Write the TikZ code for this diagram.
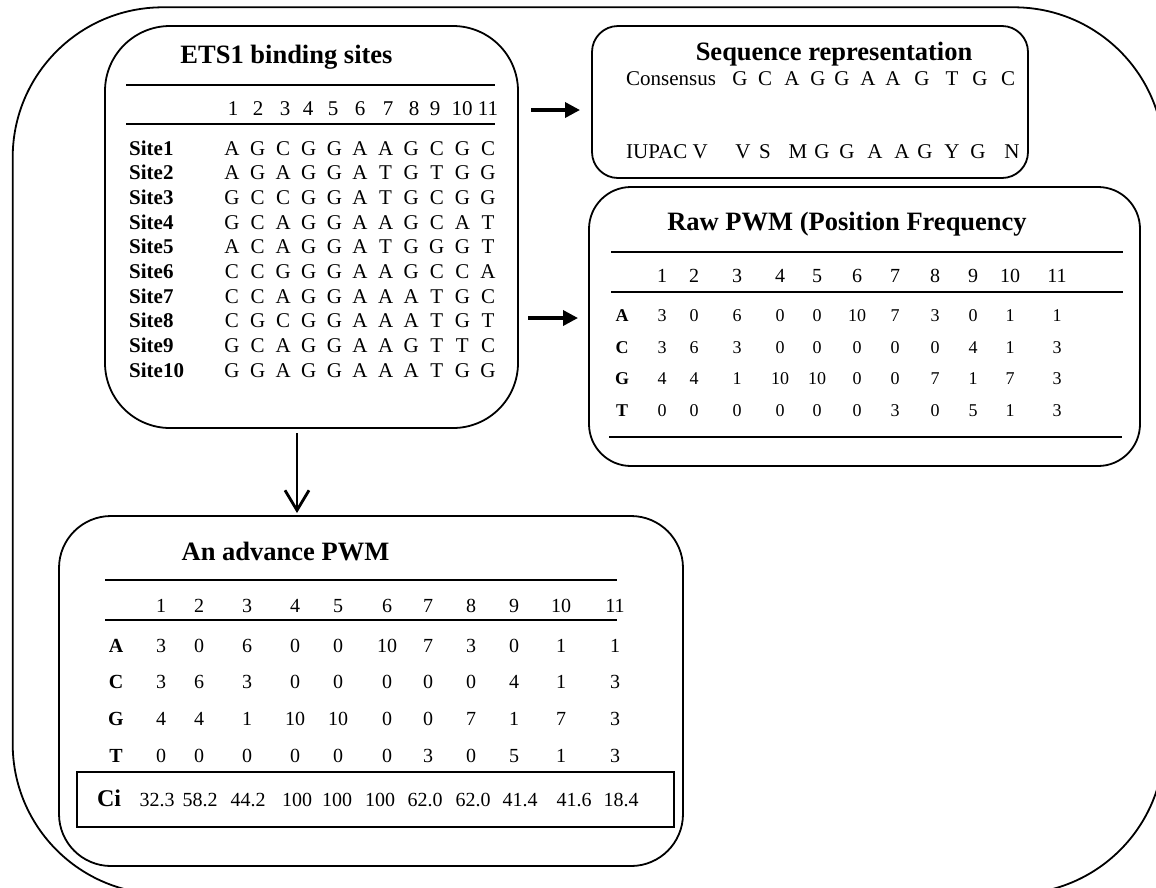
\documentclass[tikz,border=0pt]{standalone}
\usepackage{fontspec}
\setmainfont{Liberation Serif}
\usetikzlibrary{arrows.meta}

\newcommand{\ttlfont}{\fontsize{26.5}{30}\selectfont\bfseries}
\newcommand{\bodyfont}{\fontsize{21}{24}\selectfont}
\newcommand{\midfont}{\fontsize{20}{23}\selectfont}
\newcommand{\smallfont}{\fontsize{18}{21}\selectfont}
\newcommand{\cifont}{\fontsize{24}{28}\selectfont\bfseries}

\tikzset{
    panel/.style={draw, line width=1.8pt, inner sep=0pt},
    ttl/.style={anchor=base, inner sep=0pt, font=\ttlfont},
    cell/.style={anchor=base, inner sep=0pt},
    rule/.style={line width=1.8pt},
    flow/.style={line width=3.5pt, -{Triangle[length=15pt,width=15pt]}},
    drop/.style={line width=2.5pt, -{Straight Barb[length=20pt,width=24pt,line width=2.8pt]}}
}

\begin{document}
\begin{tikzpicture}[x=1pt, y=-1pt]
            \useasboundingbox (0,0) rectangle (1156,887);
            \clip (0,0) rectangle (1156,887);
            \node (frame) at (588.35,450.65) [panel, minimum width=1151.3pt, minimum height=886.7pt, rounded corners=150pt] {};

            \node (ets) at (311.5,227) [panel, minimum width=413pt, minimum height=402pt, rounded corners=65pt] {};
            \node (etsttl) at (286.5,63) [ttl] {ETS1 binding sites};
            \draw[rule] (126,85) -- (495,85);
            \draw[rule] (126,124) -- (495,124);
            \foreach \x [count=\k] in {233,258,285,308,333,360,388,414,435,462,488}
                \node (eh\k) at (\x,115) [cell, font=\bodyfont] {\k};
            \foreach \seq [count=\r] in {{A,G,C,G,G,A,A,G,C,G,C},{A,G,A,G,G,A,T,G,T,G,G},{G,C,C,G,G,A,T,G,C,G,G},{G,C,A,G,G,A,A,G,C,A,T},{A,C,A,G,G,A,T,G,G,G,T},{C,C,G,G,G,A,A,G,C,C,A},{C,C,A,G,G,A,A,A,T,G,C},{C,G,C,G,G,A,A,A,T,G,T},{G,C,A,G,G,A,A,G,T,T,C},{G,G,A,G,G,A,A,A,T,G,G}} {
                \node (site\r) at (129,{155+24.7*(\r-1)}) [cell, anchor=base west, font=\bodyfont\bfseries] {Site\r};
                \foreach \b [count=\k] in \seq
                    \node (b\r-\k) at ({232+25.6*(\k-1)},{155+24.7*(\r-1)}) [cell, font=\bodyfont] {\b};
            }

            \node (seqrep) at (810,102) [panel, minimum width=436pt, minimum height=152pt, rounded corners=26pt] {};
            \node (seqttl) at (834,60) [ttl] {Sequence representation};
            \node (cons) at (626,85) [cell, anchor=base west, font=\bodyfont] {Consensus};
            \foreach \b/\x [count=\k] in {G/740,C/765,A/792,G/818,G/842,A/868,A/893,G/922,T/952,G/980,C/1008}
                \node (c\k) at (\x,85) [cell, font=\bodyfont] {\b};
            \node (iupac) at (626,158) [cell, anchor=base west, font=\bodyfont] {IUPAC V};
            \foreach \b/\x [count=\k] in {V/743,S/765,M/798,G/822,G/847,A/875,A/902,G/925,Y/952,G/978,N/1012}
                \node (u\k) at (\x,158) [cell, font=\bodyfont] {\b};

            \node (raw) at (864.5,326.5) [panel, minimum width=551pt, minimum height=279pt, rounded corners=42pt] {};
            \node (rawttl) at (847,230) [ttl] {Raw PWM (Position Frequency};
            \draw[rule] (611,252) -- (1123,252);
            \draw[rule] (611,292) -- (1123,292);
            \draw[rule] (609,437) -- (1122,437);
            \def\rawcols{{662,694,737,780,817,857,895,935,973,1010,1057}}
            \foreach \k in {1,...,11} {
                \pgfmathsetmacro\xx{\rawcols[\k-1]}
                \node (rh\k) at (\xx,282) [cell, font=\midfont] {\k};
            }
            \foreach \lab/\y/\row in {A/321/{3,0,6,0,0,10,7,3,0,1,1},C/353/{3,6,3,0,0,0,0,0,4,1,3},G/384/{4,4,1,10,10,0,0,7,1,7,3},T/416/{0,0,0,0,0,0,3,0,5,1,3}} {
                \node (r\lab) at (622,\y) [cell, font=\smallfont\bfseries] {\lab};
                \foreach \v [count=\k] in \row {
                    \pgfmathsetmacro\xx{\rawcols[\k-1]}
                    \node (r\lab\k) at (\xx,\y) [cell, font=\smallfont] {\v};
                }
            }

            \node (adv) at (371,691) [panel, minimum width=624pt, minimum height=350pt, rounded corners=52pt] {};
            \node (advttl) at (285.5,560) [ttl] {An advance PWM};
            \draw[rule] (105,580) -- (617,580);
            \draw[rule] (105,620) -- (617,620);
            \def\advcols{{161,199,247,295,338,387,428,471,514,561,615}}
            \foreach \k in {1,...,11} {
                \pgfmathsetmacro\xx{\advcols[\k-1]}
                \node (ah\k) at (\xx,612) [cell, font=\midfont] {\k};
            }
            \foreach \lab/\y/\row in {A/652/{3,0,6,0,0,10,7,3,0,1,1},C/688/{3,6,3,0,0,0,0,0,4,1,3},G/725/{4,4,1,10,10,0,0,7,1,7,3},T/762/{0,0,0,0,0,0,3,0,5,1,3}} {
                \node (a\lab) at (116,\y) [cell, font=\midfont\bfseries] {\lab};
                \foreach \v [count=\k] in \row {
                    \pgfmathsetmacro\xx{\advcols[\k-1]}
                    \node (a\lab\k) at (\xx,\y) [cell, font=\midfont] {\v};
                }
            }
            \node (cibox) at (375.5,799.5) [draw, line width=2pt, minimum width=597pt, minimum height=55pt, inner sep=0pt] {};
            \node (ci) at (109,806) [cell, font=\cifont] {Ci};
            \foreach \v/\x [count=\k] in {32.3/157,58.2/200,44.2/248,100/297,100/337,100/380,62.0/425,62.0/473,41.4/520,41.6/574,18.4/621}
                \node (ci\k) at (\x,806) [cell, font=\midfont] {\v};

            \coordinate (seqfrom) at (531,110);
            \coordinate (seqto) at (580,110);
            \coordinate (rawfrom) at (528,318);
            \coordinate (rawto) at (578,318);
            \coordinate (advfrom) at (297,433);
            \coordinate (advto) at (297,513);
            \draw[flow] (seqfrom) -- (seqto);
            \draw[flow] (rawfrom) -- (rawto);
            \draw[drop] (advfrom) -- (advto);
        \end{tikzpicture}
\end{document}
